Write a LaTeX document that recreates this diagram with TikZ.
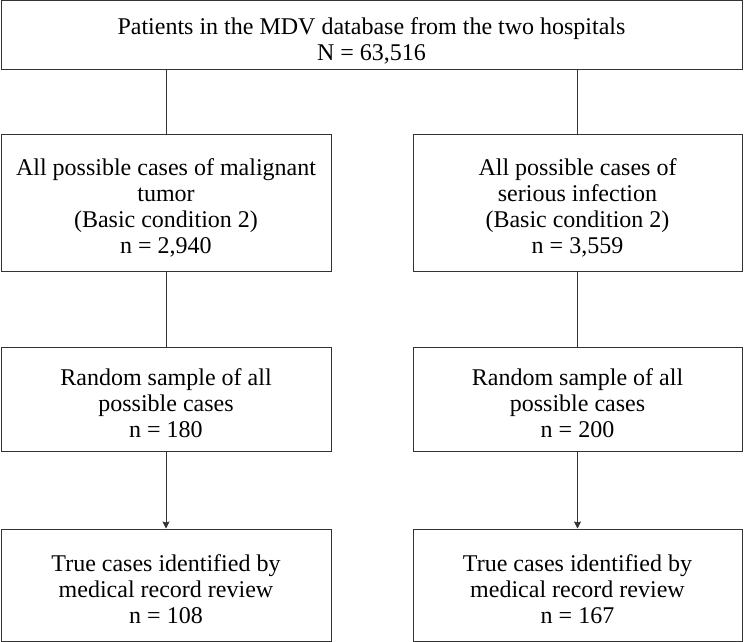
\documentclass[tikz,border=0pt]{standalone}
\usepackage{fontspec}
\setmainfont{Liberation Serif}
\usetikzlibrary{arrows.meta}
\definecolor{ink}{HTML}{333333}
\newcommand\boxlines[1]{\raisebox{-13.3pt}[0pt][0pt]{\begin{tabular}{@{}c@{}}#1\end{tabular}}}
\tikzset{
  box/.style={draw=ink, line width=1pt, align=center, inner sep=0pt,
    text=black, font=\fontsize{24}{26}\selectfont},
  link/.style={draw=ink, line width=0.9pt},
  arrowlink/.style={link, -{Stealth[length=7pt,width=7pt,inset=1pt]}}
}
\begin{document}
\begin{tikzpicture}[x=1pt,y=-1pt]
\useasboundingbox (0,0) rectangle (744,642);
\node[box, minimum width=741pt, minimum height=69pt] (top) at (371.5,35.5)
  {\boxlines{Patients in the MDV database from the two hospitals\\N = 63,516}};
\node[box, minimum width=330pt, minimum height=137pt] (l2) at (166,202.5)
  {\boxlines{All possible cases of malignant\\tumor\\(Basic condition 2)\\n = 2,940}};
\node[box, minimum width=329pt, minimum height=137pt] (r2) at (577.5,202.5)
  {\boxlines{All possible cases of\\serious infection\\(Basic condition 2)\\n = 3,559}};
\node[box, minimum width=330pt, minimum height=104pt] (l3) at (166,399)
  {\boxlines{Random sample of all\\possible cases\\n = 180}};
\node[box, minimum width=329pt, minimum height=104pt] (r3) at (577.5,399)
  {\boxlines{Random sample of all\\possible cases\\n = 200}};
\node[box, minimum width=330pt, minimum height=112pt] (l4) at (166,585)
  {\boxlines{True cases identified by\\medical record review\\n = 108}};
\node[box, minimum width=329pt, minimum height=112pt] (r4) at (577.5,585)
  {\boxlines{True cases identified by\\medical record review\\n = 167}};
\draw[link] (top.south -| l2.north) -- (l2.north);
\draw[link] (top.south -| r2.north) -- (r2.north);
\draw[link] (l2.south) -- (l3.north);
\draw[link] (r2.south) -- (r3.north);
\draw[arrowlink] (l3.south) -- (l4.north);
\draw[arrowlink] (r3.south) -- (r4.north);
\end{tikzpicture}
\end{document}
